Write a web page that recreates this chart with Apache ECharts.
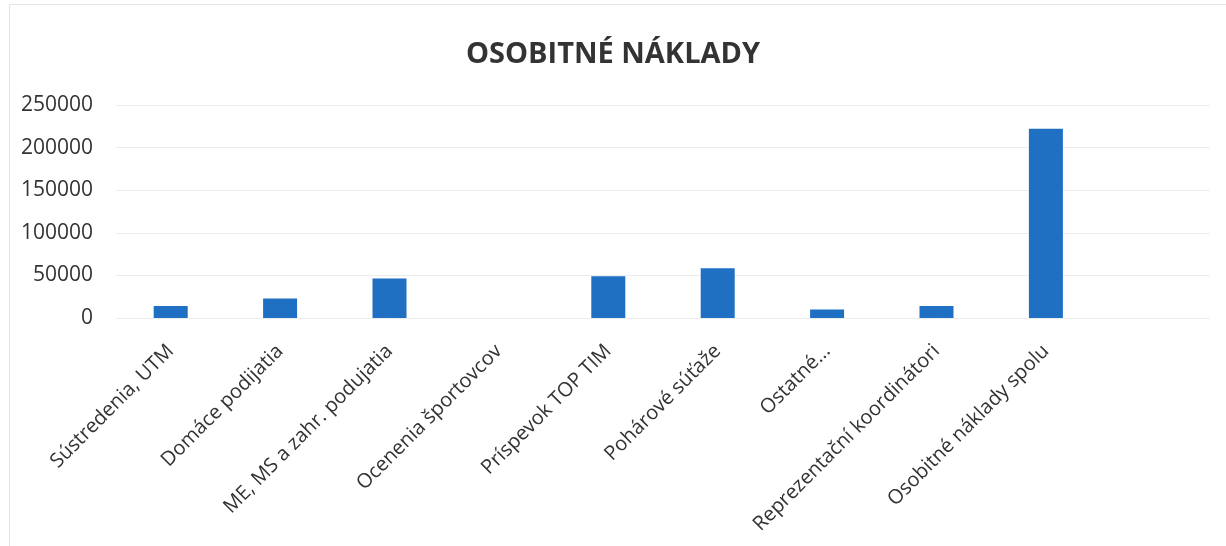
<!DOCTYPE html>
<html>
<head>
<meta charset="utf-8">
<script src="https://cdn.jsdelivr.net/npm/echarts@6/dist/echarts.min.js"></script>
<style>html,body{margin:0;padding:0;background:#fff}#c{width:1226px;height:546px}</style>
</head>
<body>
<div id="c"></div>
<script>
const title = 'OSOBITNÉ NÁKLADY';
const categories = ['Sústredenia, UTM', 'Domáce podijatia', 'ME, MS a zahr. podujatia', 'Ocenenia športovcov', 'Príspevok TOP TIM', 'Pohárové súťaže', 'Ostatné...', 'Reprezentační koordinátori', 'Osobitné náklady spolu', ''];
const values = [14000, 23000, 46500, 0, 49000, 58500, 10000, 14000, 222000, null];
const yTicks = [0, 50000, 100000, 150000, 200000, 250000];

const chart = echarts.init(document.getElementById('c'), null, {renderer: 'canvas'});
chart.setOption({
  animation: false,
  backgroundColor: '#ffffff',
  title: {
    text: title, left: 'center', top: 35,
    textStyle: {fontFamily: 'Open Sans', fontWeight: 'bold', fontSize: 29, color: '#333333'}
  },
  graphic: [{type: 'rect', shape: {x: 9.5, y: 4.5, width: 1300, height: 600}, style: {fill: 'none', stroke: '#e4e4e4', lineWidth: 1}, silent: true}],
  grid: {left: 116, right: 16, top: 105, bottom: 228},
  xAxis: {
    type: 'category', data: categories,
    axisLine: {show: false}, axisTick: {show: false},
    axisLabel: {rotate: 45, interval: 0, margin: 30, fontFamily: 'Open Sans', fontSize: 20, color: '#333333'}
  },
  yAxis: {
    type: 'value', min: yTicks[0], max: yTicks[yTicks.length - 1], interval: 50000,
    axisLine: {show: false}, axisTick: {show: false},
    splitLine: {lineStyle: {color: '#ececec', width: 1}},
    axisLabel: {margin: 23, fontFamily: 'Open Sans', fontSize: 21, color: '#333333', formatter: v => String(v)}
  },
  series: [{
    type: 'bar', data: values, barWidth: 34,
    itemStyle: {color: '#1f6fc2'}
  }]
});
</script>
</body>
</html>
